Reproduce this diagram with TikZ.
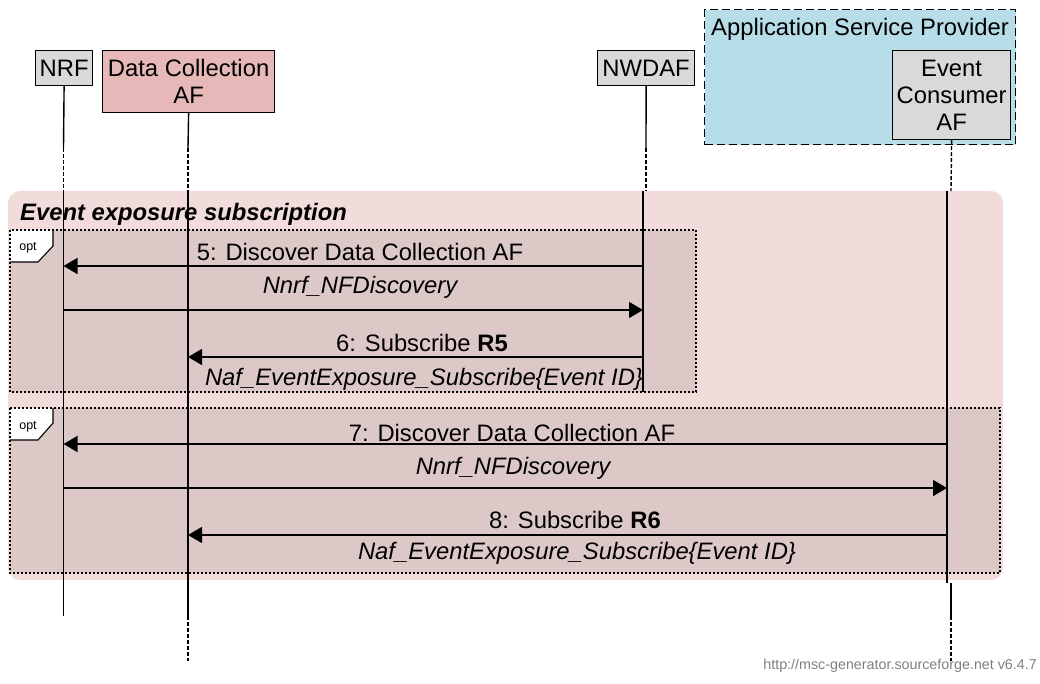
\documentclass[tikz,border=0pt]{standalone}
\usepackage{fontspec}
\setmainfont{Liberation Sans}
\usetikzlibrary{arrows.meta}
\definecolor{outerpink}{HTML}{F2DCDB}
\definecolor{optfill}{HTML}{DCC8C7}
\definecolor{dcfill}{HTML}{E6B8B7}
\definecolor{entgrey}{HTML}{D9D9D9}
\definecolor{grpblue}{HTML}{B7DDE8}
\definecolor{footgrey}{HTML}{808080}
\tikzset{
  big/.style={font=\fontsize{23.8}{27}\selectfont},
  ent/.style={draw, line width=1.2pt, inner sep=0pt, align=center, big, anchor=north west},
  lifeline/.style={line width=1.4pt},
  lifedash/.style={line width=1.4pt, dash pattern=on 4pt off 2pt},
  msg/.style={line width=1.4pt, -{Triangle[length=14pt,width=16pt]}},
  lbl/.style={big, anchor=base, inner sep=0pt},
  ilbl/.style={lbl, font=\fontsize{23.8}{27}\selectfont\itshape},
  optborder/.style={draw, line width=1.2pt, dash pattern=on 2pt off 2pt},
  tabedge/.style={line width=1.1pt},
  optlbl/.style={font=\fontsize{12.5}{14}\selectfont, anchor=base, inner sep=0pt},
}
\begin{document}
\begin{tikzpicture}[x=1pt,y=-1pt]
\useasboundingbox (0,0) rectangle (1040,684);

% group box
\node[draw, line width=1.3pt, dash pattern=on 8pt off 4pt, fill=grpblue, minimum width=311pt, minimum height=135pt, inner sep=0pt, anchor=north west] (asp) at (704,9) {};
\node[lbl] (asptitle) at (860,36) {Application Service Provider};

% entities
\node[ent, fill=entgrey, minimum width=57pt, minimum height=35pt] (nrf) at (35,50) {NRF};
\node[ent, fill=dcfill, minimum width=172pt, minimum height=62pt] (dcaf) at (102,50) {Data Collection\\AF};
\node[ent, fill=entgrey, minimum width=97pt, minimum height=35pt] (nwdaf) at (597,50) {NWDAF};
\node[ent, fill=entgrey, minimum width=118pt, minimum height=89pt] (ecaf) at (892,50) {Event\\Consumer\\AF};

% outer box
\fill[outerpink, rounded corners=12pt] (8,191) rectangle (1003,580);
\node[anchor=base west, inner sep=0pt, font=\fontsize{23.8}{27}\selectfont\bfseries\itshape] (title) at (20,221) {Event exposure subscription};

% opt boxes
\fill[optfill] (10,230) rectangle (696,392);
\fill[optfill] (10,408) rectangle (1000,573);
\fill[white] (10,230) -- (53,230) -- (53,246) -- (38,262) -- (10,262) -- cycle;
\fill[white] (10,408) -- (53,408) -- (53,423) -- (38,440) -- (10,440) -- cycle;
\draw[optborder] (10,230) rectangle (696,392);
\draw[optborder] (10,408) rectangle (1000,573);
\draw[tabedge] (53,230) -- (53,246) -- (38,262) -- (10,262);
\draw[tabedge] (53,408) -- (53,423) -- (38,440) -- (10,440);
\node[optlbl] (opt1) at (28,251) {opt};
\node[optlbl] (opt2) at (28,429) {opt};

% lifeline coordinates
\coordinate (nrfA) at (63.5,148);
\coordinate (nrfB) at (63.5,191);
\coordinate (nrfC) at (63.5,583);
\coordinate (nrfD) at (63.5,616);
\coordinate (dcA) at (188,148);
\coordinate (dcB) at (188,191);
\coordinate (dcC) at (188,583);
\coordinate (dcD) at (188,616);
\coordinate (dcE) at (188,661);
\coordinate (nwA) at (646,148);
\coordinate (nwB) at (646,191);
\coordinate (nwIn) at (643,191);
\coordinate (nwOut) at (643,392);
\coordinate (ecA) at (951,148);
\coordinate (ecB) at (951,191);
\coordinate (ecIn) at (947,191);
\coordinate (ecOut) at (947,583);
\coordinate (ecC) at (951,583);
\coordinate (ecD) at (951,616);
\coordinate (ecE) at (951,661);

% lifelines above
\draw[lifeline] (nrf.south) -- (nrfA);
\draw[lifedash] (nrfA) -- (nrfB);
\draw[lifeline] (dcaf.south) -- (dcA);
\draw[lifedash] (dcA) -- (dcB);
\draw[lifeline] (nwdaf.south) -- (nwA);
\draw[lifedash] (nwA) -- (nwB);
\draw[lifedash] (ecaf.south) -- (ecB);
% lifelines inside
\draw[lifeline] (nrfB) -- (nrfC);
\draw[lifeline] (dcB) -- (dcC);
\draw[lifeline] (nwIn) -- (nwOut);
\draw[lifeline] (ecIn) -- (ecOut);
% lifelines below
\draw[lifeline] (nrfC) -- (nrfD);
\draw[lifeline] (dcC) -- (dcD);
\draw[lifedash] (dcD) -- (dcE);
\draw[lifeline] (ecC) -- (ecD);
\draw[lifedash] (ecD) -- (ecE);

% message end points
\coordinate (m5s) at (643,266); \coordinate (m5e) at (63.5,266);
\coordinate (m5bs) at (63.5,310); \coordinate (m5be) at (643,310);
\coordinate (m6s) at (643,357); \coordinate (m6e) at (188,357);
\coordinate (m7s) at (947,444); \coordinate (m7e) at (63.5,444);
\coordinate (m7bs) at (63.5,488); \coordinate (m7be) at (947,488);
\coordinate (m8s) at (947,535); \coordinate (m8e) at (188,535);

\draw[msg] (m5s) -- (m5e);
\draw[msg] (m5bs) -- (m5be);
\draw[msg] (m6s) -- (m6e);
\draw[msg] (m7s) -- (m7e);
\draw[msg] (m7bs) -- (m7be);
\draw[msg] (m8s) -- (m8e);

% labels
\node[lbl] (l5) at (360,261) {5: Discover Data Collection AF};
\node[ilbl] (l5b) at (360,294) {Nnrf\_NFDiscovery};
\node[lbl] (l6) at (422,351) {6: Subscribe \textbf{R5}};
\node[ilbl] (l6b) at (424,385) {Naf\_EventExposure\_Subscribe\{Event ID\}};
\node[lbl] (l7) at (512,441) {7: Discover Data Collection AF};
\node[ilbl] (l7b) at (513,474) {Nnrf\_NFDiscovery};
\node[lbl] (l8) at (575,528) {8: Subscribe \textbf{R6}};
\node[ilbl] (l8b) at (577,559) {Naf\_EventExposure\_Subscribe\{Event ID\}};

% footer
\node[anchor=base east, inner sep=0pt, font=\fontsize{14.3}{16}\selectfont, text=footgrey] (footer) at (1037,669) {http://msc-generator.sourceforge.net v6.4.7};
\end{tikzpicture}
\end{document}
